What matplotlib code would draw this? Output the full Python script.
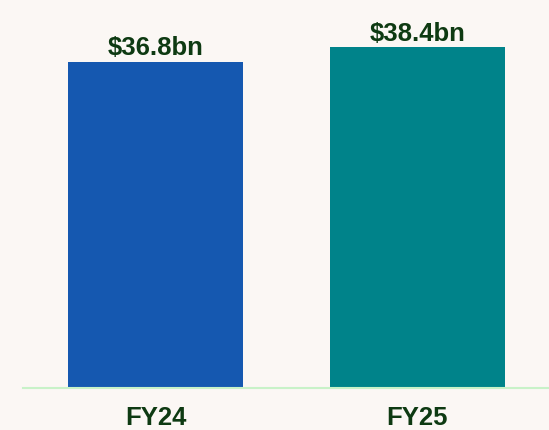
import matplotlib
matplotlib.use("Agg")
import matplotlib.pyplot as plt

categories = ["FY24", "FY25"]
values = [36.8, 38.4]
labels = ["$36.8bn", "$38.4bn"]
colors = ["#1558B0", "#00838A"]

bg = "#FBF7F4"
txt = "#0E3A12"

fig = plt.figure(figsize=(5.49, 4.31), dpi=100, facecolor=bg)
ax = fig.add_axes([23/549, 42/431, 526/549, 389/431])
ax.set_facecolor(bg)

x = list(range(len(categories)))
ax.bar(x, values, width=0.668, color=colors, zorder=2)
ax.set_xlim(-0.506, 1.502)
ax.set_ylim(0, 43.86)

for xi, v, lab in zip(x, values, labels):
    ax.annotate(lab, (xi, v), xytext=(0, 2), textcoords="offset points",
                ha="center", va="bottom", fontsize=18.5, fontweight="bold",
                color=txt, family="Liberation Sans")

for s in ["top", "right", "left"]:
    ax.spines[s].set_visible(False)
ax.spines["bottom"].set_color("#C8F2C8")
ax.spines["bottom"].set_linewidth(1.5)
ax.set_yticks([])
ax.set_xticks(x)
ax.set_xticklabels(categories, fontsize=18.5, fontweight="bold", color=txt,
                   family="Liberation Sans")
ax.tick_params(axis="x", length=0, pad=12)

fig.savefig("out.png", dpi=100, facecolor=bg)
